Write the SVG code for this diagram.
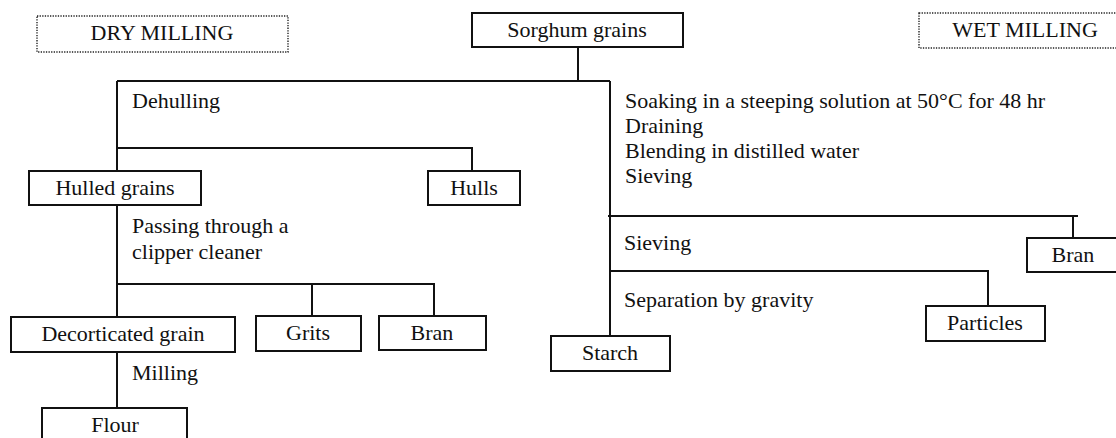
<svg xmlns="http://www.w3.org/2000/svg" width="1116" height="438" viewBox="0 0 1116 438">
  <style>
    text { font-family: "Liberation Serif", "Times New Roman", serif; font-size: 22px; fill: #111; }
    .box { fill: #fff; stroke: #111; stroke-width: 2; }
    .title { fill: #fff; stroke: #222; stroke-width: 1.4; stroke-dasharray: 1.3 1.3; }
    .link { fill: none; stroke: #111; stroke-width: 2; }
    .mid { text-anchor: middle; }
  </style>
  <rect width="1116" height="438" fill="#fff"/>

  <!-- connectors -->
  <g id="connectors" class="link">
    <!-- root split -->
    <path d="M578 47 V81 M117 81 H610"/>
    <!-- dry branch: dehulling -->
    <path d="M117 81 V171 M117 148 H472 V171"/>
    <!-- clipper cleaner -->
    <path d="M117 205 V317 M117 284 H434 V316 M312 284 V316"/>
    <!-- milling -->
    <path d="M117 352 V408"/>
    <!-- wet branch -->
    <path d="M610 81 V336"/>
    <path d="M608 216 H1078 M1073 216 V238"/>
    <path d="M610 271 H988 V306"/>
  </g>

  <!-- section titles -->
  <g id="dry-milling">
    <rect class="title" x="37" y="16" width="251" height="36"/>
    <text x="162" y="40" class="mid">DRY MILLING</text>
  </g>
  <g id="wet-milling">
    <rect class="title" x="919" y="13" width="210" height="35"/>
    <text x="1025" y="37" class="mid">WET MILLING</text>
  </g>

  <!-- nodes -->
  <g id="sorghum-grains">
    <rect class="box" x="472" y="13" width="211" height="34"/>
    <text x="577" y="37" class="mid">Sorghum grains</text>
  </g>
  <g id="hulled-grains">
    <rect class="box" x="29" y="171" width="172" height="34"/>
    <text x="115" y="195" class="mid">Hulled grains</text>
  </g>
  <g id="hulls">
    <rect class="box" x="428" y="171" width="92" height="34"/>
    <text x="474" y="195" class="mid">Hulls</text>
  </g>
  <g id="decorticated-grain">
    <rect class="box" x="11" y="317" width="224" height="35"/>
    <text x="123" y="341" class="mid">Decorticated grain</text>
  </g>
  <g id="grits">
    <rect class="box" x="256" y="316" width="105" height="35"/>
    <text x="308" y="340" class="mid">Grits</text>
  </g>
  <g id="bran-dry">
    <rect class="box" x="379" y="316" width="107" height="34"/>
    <text x="432" y="340" class="mid">Bran</text>
  </g>
  <g id="flour">
    <rect class="box" x="42" y="408" width="145" height="40"/>
    <text x="115" y="432" class="mid">Flour</text>
  </g>
  <g id="starch">
    <rect class="box" x="551" y="336" width="119" height="35"/>
    <text x="610" y="360" class="mid">Starch</text>
  </g>
  <g id="particles">
    <rect class="box" x="926" y="306" width="119" height="35"/>
    <text x="985" y="330" class="mid">Particles</text>
  </g>
  <g id="bran-wet">
    <rect class="box" x="1027" y="238" width="100" height="34"/>
    <text x="1073" y="262" class="mid">Bran</text>
  </g>

  <!-- step labels -->
  <g id="labels">
    <text x="132" y="108">Dehulling</text>
    <text x="132" y="233">Passing through a</text>
    <text x="132" y="259">clipper cleaner</text>
    <text x="132" y="380">Milling</text>
    <text x="625" y="108">Soaking in a steeping solution at 50°C for 48 hr</text>
    <text x="625" y="133">Draining</text>
    <text x="625" y="158">Blending in distilled water</text>
    <text x="625" y="183">Sieving</text>
    <text x="624" y="250">Sieving</text>
    <text x="624" y="307">Separation by gravity</text>
  </g>
</svg>
